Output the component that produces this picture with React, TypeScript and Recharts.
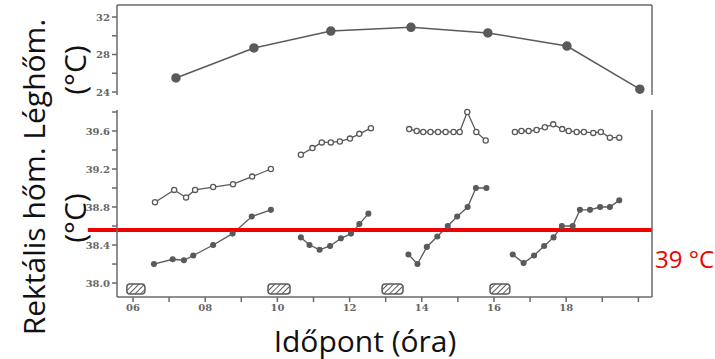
import { LineChart, Line, XAxis, YAxis, ReferenceArea, ReferenceLine } from 'recharts'

// shared hour axis (both panels)
const hourDomain: [number, number] = [5.557, 20.377]
const hourTicks = [6, 7, 8, 9, 10, 11, 12, 13, 14, 15, 16, 17, 18, 19, 20]
const labelledHours = [6, 8, 10, 12, 14, 16, 18]

// air temperature (top panel)
const airHours = [7.19, 9.35, 11.48, 13.7, 15.83, 18.02, 20.04]
const airTemps = [25.5, 28.7, 30.5, 30.9, 30.3, 28.9, 24.3]
const airTicks = [24, 26, 28, 30, 32]
const airLabelled = [24, 28, 32]

// rectal temperature, upper group (open markers), four sessions
const upHours1 = [6.61, 7.14, 7.47, 7.72, 8.22, 8.77, 9.3, 9.82]
const upTemps1 = [38.85, 38.98, 38.9, 38.98, 39.01, 39.04, 39.12, 39.2]
const upHours2 = [10.65, 10.97, 11.23, 11.48, 11.73, 12.01, 12.27, 12.59]
const upTemps2 = [39.35, 39.42, 39.48, 39.48, 39.49, 39.52, 39.57, 39.63]
const upHours3 = [13.65, 13.86, 14.04, 14.24, 14.45, 14.66, 14.88, 15.05, 15.26, 15.51, 15.77]
const upTemps3 = [39.62, 39.6, 39.59, 39.59, 39.59, 39.59, 39.59, 39.59, 39.8, 39.59, 39.5]
const upHours4 = [16.58, 16.76, 16.96, 17.18, 17.41, 17.64, 17.89, 18.07, 18.29, 18.49, 18.75, 18.96, 19.21, 19.47]
const upTemps4 = [39.59, 39.6, 39.6, 39.61, 39.64, 39.67, 39.62, 39.6, 39.59, 39.59, 39.58, 39.59, 39.53, 39.53]

// rectal temperature, lower group (filled markers)
const loHours1 = [6.58, 7.1, 7.41, 7.67, 8.22, 8.76, 9.29, 9.82]
const loTemps1 = [38.2, 38.25, 38.24, 38.29, 38.4, 38.52, 38.7, 38.77]
const loHours2 = [10.65, 10.89, 11.17, 11.46, 11.76, 12.04, 12.27, 12.52]
const loTemps2 = [38.48, 38.4, 38.35, 38.39, 38.47, 38.52, 38.62, 38.73]
const loHours3 = [13.63, 13.88, 14.14, 14.43, 14.72, 14.98, 15.27, 15.5, 15.79]
const loTemps3 = [38.3, 38.2, 38.38, 38.49, 38.6, 38.7, 38.8, 39.0, 39.0]
const loHours4 = [16.52, 16.82, 17.11, 17.39, 17.65, 17.88, 18.18, 18.38, 18.66, 18.94, 19.21, 19.47]
const loTemps4 = [38.3, 38.21, 38.29, 38.39, 38.48, 38.6, 38.6, 38.77, 38.77, 38.8, 38.8, 38.87]

const rectalTicks = [38.0, 38.2, 38.4, 38.6, 38.8, 39.0, 39.2, 39.4, 39.6, 39.8]
const rectalLabelled = [38.0, 38.4, 38.8, 39.2, 39.6]

// hatched blocks on the time axis
const blockStarts = [5.83, 9.74, 12.9, 15.89]
const blockEnds = [6.33, 10.35, 13.48, 16.44]
const blockTop = 37.99
const blockBottom = 37.884

// red threshold annotation
const thresholdTemp = 38.558
const thresholdFrom = 4.75

const zip = (hs: number[], ts: number[]) => hs.map((h, i) => ({ h, t: ts[i] }))

const INK = '#5a5a5a'
const AXIS = '#6a6a6a'
const tickStyle = { fontSize: 10, fontFamily: 'DejaVu Serif', fontWeight: 700, fill: '#666' }

const upperSegments = [zip(upHours1, upTemps1), zip(upHours2, upTemps2), zip(upHours3, upTemps3), zip(upHours4, upTemps4)]
const lowerSegments = [zip(loHours1, loTemps1), zip(loHours2, loTemps2), zip(loHours3, loTemps3), zip(loHours4, loTemps4)]

const labelFont = { fontFamily: 'Open Sans', fontSize: 30, color: '#111', whiteSpace: 'nowrap' as const }

export default function App() {
  return (
    <div style={{ position: 'absolute', left: 0, top: 0, width: 715, height: 359, background: '#fff', overflow: 'hidden' }}>
      <svg width={0} height={0} style={{ position: 'absolute' }}>
        <defs>
          <pattern id="hatch" patternUnits="userSpaceOnUse" width={4} height={4} patternTransform="rotate(45)">
            <rect width={4} height={4} fill="#fff" />
            <line x1={0} y1={0} x2={0} y2={4} stroke={INK} strokeWidth={2} />
          </pattern>
        </defs>
      </svg>

      {/* Air temperature */}
      <div style={{ position: 'absolute', left: 0, top: 0 }}>
        <LineChart width={715} height={110} data={zip(airHours, airTemps)} margin={{ top: 4, right: 53, bottom: 15, left: 97 }}>
          <XAxis
            orientation="top"
            type="number"
            dataKey="h"
            domain={hourDomain}
            ticks={hourTicks}
            height={1}
            tick={false}
            tickSize={4}
            stroke={AXIS}
            strokeWidth={1.5}
          />
          <YAxis
            yAxisId="l"
            type="number"
            domain={[23.68, 33.28]}
            ticks={airTicks}
            width={20}
            tickSize={5}
            tick={tickStyle}
            tickFormatter={(v: number) => (airLabelled.includes(v) ? String(v) : '')}
            stroke={AXIS}
            strokeWidth={1.5}
          />
          <YAxis
            yAxisId="r"
            orientation="right"
            type="number"
            domain={[23.68, 33.28]}
            ticks={airTicks}
            width={10}
            tickSize={4}
            tickFormatter={() => ''}
            stroke={AXIS}
            strokeWidth={1.5}
          />
          <Line
            yAxisId="l"
            dataKey="t"
            stroke={INK}
            strokeWidth={1.5}
            dot={{ r: 4, fill: INK, stroke: INK }}
            isAnimationActive={false}
          />
        </LineChart>
      </div>

      {/* Rectal temperature */}
      <div style={{ position: 'absolute', left: 0, top: 100 }}>
        <LineChart width={715} height={225} margin={{ top: 10, right: 53, bottom: 8, left: 97 }}>
          <XAxis
            type="number"
            dataKey="h"
            domain={hourDomain}
            ticks={hourTicks}
            height={20}
            tickSize={5}
            tick={tickStyle}
            tickFormatter={(v: number) => (labelledHours.includes(v) ? String(v).padStart(2, '0') : '')}
            stroke={AXIS}
            strokeWidth={1.5}
          />
          <YAxis
            yAxisId="l"
            type="number"
            domain={[37.853, 39.821]}
            ticks={rectalTicks}
            width={20}
            tickSize={5}
            tick={tickStyle}
            tickFormatter={(v: number) => (rectalLabelled.some((l) => Math.abs(l - v) < 1e-6) ? v.toFixed(1) : '')}
            stroke={AXIS}
            strokeWidth={1.5}
          />
          <YAxis
            yAxisId="r"
            orientation="right"
            type="number"
            domain={[37.853, 39.821]}
            ticks={rectalTicks}
            width={10}
            tickSize={4}
            tickFormatter={() => ''}
            stroke={AXIS}
            strokeWidth={1.5}
          />
          {blockStarts.map((s, i) => (
            <ReferenceArea
              key={'b' + i}
              yAxisId="l"
              x1={s}
              x2={blockEnds[i]}
              y1={blockBottom}
              y2={blockTop}
              fill="url(#hatch)"
              fillOpacity={1}
              stroke={INK}
              strokeWidth={1.5}
              radius={3}
            />
          ))}
          {upperSegments.map((seg, i) => (
            <Line
              key={'u' + i}
              yAxisId="l"
              data={seg}
              dataKey="t"
              stroke={INK}
              strokeWidth={1.3}
              dot={{ r: 2.6, fill: '#fff', stroke: INK, strokeWidth: 1.3 }}
              isAnimationActive={false}
            />
          ))}
          {lowerSegments.map((seg, i) => (
            <Line
              key={'d' + i}
              yAxisId="l"
              data={seg}
              dataKey="t"
              stroke={INK}
              strokeWidth={1.3}
              dot={{ r: 2.4, fill: INK, stroke: INK }}
              isAnimationActive={false}
            />
          ))}
          <ReferenceLine
            yAxisId="l"
            segment={[
              { x: thresholdFrom, y: thresholdTemp },
              { x: hourDomain[1], y: thresholdTemp },
            ]}
            ifOverflow="visible"
            stroke="#f00000"
            strokeWidth={4}
          />
        </LineChart>
      </div>

      {/* annotations */}
      <div style={{ ...labelFont, position: 'absolute', left: 33, top: 177, transform: 'translate(-50%, -50%) rotate(-90deg)' }}>
        Rektális hőm. Léghőm.
      </div>
      {[70, 218].map((cy) => (
        <div key={cy} style={{ ...labelFont, position: 'absolute', left: 74, top: cy, transform: 'translate(-50%, -50%) rotate(-90deg)' }}>
          (°C)
        </div>
      ))}
      <div style={{ ...labelFont, position: 'absolute', left: 365, top: 340, transform: 'translate(-50%, -50%)' }}>
        Időpont (óra)
      </div>
      <div
        style={{
          position: 'absolute',
          left: 655,
          top: 242,
          whiteSpace: 'nowrap',
          fontFamily: 'Open Sans',
          fontSize: 24,
          color: '#f00000',
        }}
      >
        39 °C
      </div>
    </div>
  )
}
